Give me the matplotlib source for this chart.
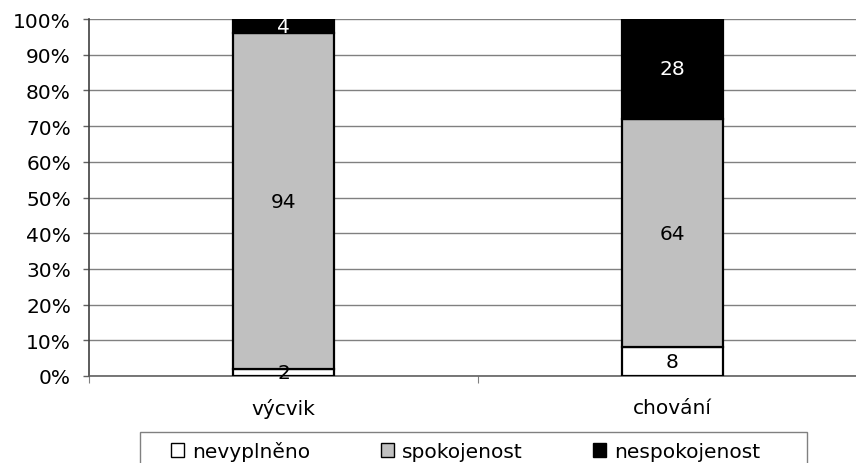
import numpy as np
import matplotlib
matplotlib.use("Agg")
import matplotlib.pyplot as plt
from matplotlib.patches import Rectangle
from matplotlib.ticker import FuncFormatter

# ==================== DATA ====================
categories = ["výcvik", "chování"]
series_names = ["nevyplněno", "spokojenost", "nespokojenost"]
nevyplneno = [2, 8]
spokojenost = [94, 64]
nespokojenost = [4, 28]
yticks = np.arange(0, 101, 10)

# ==================== STYLE ====================
COLORS = ["#FFFFFF", "#C0C0C0", "#000000"]
TEXT_COLORS = ["#000000", "#000000", "#FFFFFF"]
BAR_WIDTH = 0.26
FONT_SIZE = 14.5
W, H = 856, 464

plt.rcParams["font.family"] = ["DejaVu Sans"]

fig = plt.figure(figsize=(W / 100, H / 100), dpi=100)
ax = fig.add_axes([89 / W, 1 - 377 / H, (867 - 89) / W, (377 - 20) / H])

values = [nevyplneno, spokojenost, nespokojenost]
totals = np.sum(np.array(values, dtype=float), axis=0)
x = np.arange(len(categories))
bottom = np.zeros(len(categories))

for name, vals, col, tcol in zip(series_names, values, COLORS, TEXT_COLORS):
    pct = np.array(vals, dtype=float) / totals * 100
    ax.bar(x, pct, BAR_WIDTH, bottom=bottom, color=col, edgecolor="black",
           linewidth=1.6, label=name, zorder=3)
    for xi, p, b, v in zip(x, pct, bottom, vals):
        ax.text(xi, b + p / 2, str(v), ha="center", va="center",
                fontsize=FONT_SIZE, color=tcol, zorder=4)
    bottom = bottom + pct

# axes
ax.set_xlim(-0.5, 1.5)
ax.set_ylim(0, 100)
ax.set_yticks(yticks)
ax.yaxis.set_major_formatter(FuncFormatter(lambda v, p: f"{int(v)}%"))
ax.set_xticks(x)
ax.set_xticklabels(categories)
ax.set_xticks([-0.5, 0.5, 1.5], minor=True)
ax.tick_params(axis="x", which="major", length=0, pad=16, labelsize=FONT_SIZE)
ax.tick_params(axis="x", which="minor", length=5, width=0.8, color="#808080")
ax.tick_params(axis="y", length=4, width=1, color="#606060",
               labelsize=FONT_SIZE, pad=9)
ax.grid(axis="y", color="#808080", linewidth=1.0, zorder=0)
ax.set_axisbelow(True)
for s in ["top", "right"]:
    ax.spines[s].set_visible(False)
ax.spines["left"].set_color("#404040")
ax.spines["left"].set_linewidth(1.2)
ax.spines["bottom"].set_color("#606060")
ax.spines["bottom"].set_linewidth(1.2)

# legend (frame drawn separately, it runs past the bottom edge)
leg = fig.legend(
    loc="center left",
    bbox_to_anchor=(171 / W, 1 - 452 / H),
    bbox_transform=fig.transFigure,
    ncol=3,
    frameon=False,
    fontsize=FONT_SIZE,
    handlelength=0.65,
    handleheight=0.65,
    handletextpad=0.4,
    columnspacing=3.5,
    borderaxespad=0.0,
    borderpad=0.0,
)
for h in leg.legend_handles:
    h.set_linewidth(1.0)

fig.patches.append(Rectangle((140 / W, -0.05), 667 / W, 0.05 + 1 - 433 / H,
                             transform=fig.transFigure, fill=False,
                             edgecolor="#808080", linewidth=1.0))

fig.savefig("out.png", dpi=100)
